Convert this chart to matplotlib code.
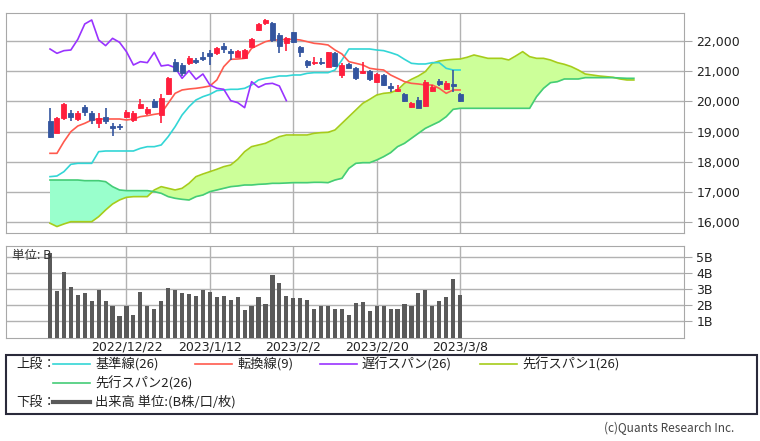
import matplotlib
matplotlib.use("Agg")
import matplotlib.pyplot as plt
from matplotlib.lines import Line2D
from matplotlib.patches import Rectangle
from matplotlib.ticker import FuncFormatter
import numpy as np

plt.rcParams['font.family'] = ['Noto Sans CJK JP', 'DejaVu Sans']

# daily candles (60 sessions)
opens = [19364, 18967, 19441, 19607, 19408, 19805, 19607, 19298, 19496, 19187,
         19187, 19474, 19386, 19772, 19607, 20026, 19552, 20235, 21316, 21206,
         21261, 21371, 21482, 21614, 21592, 21846, 21669, 21482, 21426, 21813,
         22364, 22607, 22607, 22199, 21923, 22287, 21813, 21338, 21261, 21316,
         21151, 21592, 20875, 21228, 21118, 20930, 21018, 20654, 20875, 20511,
         20357, 20235, 19805, 20048, 19849, 20357, 20688, 20401, 20577, 20246]
highs = [19772, 19496, 19937, 19717, 19684, 19882, 19684, 19607, 19794, 19276,
         19254, 19717, 19684, 20081, 19827, 20070, 20235, 20820, 21393, 21261,
         21504, 21426, 21647, 21702, 21813, 21945, 21735, 21702, 21730, 22088,
         22585, 22717, 22640, 22276, 22121, 22309, 21846, 21371, 21482, 21426,
         21647, 21625, 21261, 21261, 21151, 21316, 21040, 20930, 20908, 20599,
         20544, 20268, 19993, 20158, 20710, 20544, 20732, 20688, 21040, 20268]
lows = [18779, 18945, 19386, 19364, 19364, 19518, 19254, 19110, 19254, 18856,
        19055, 19441, 19331, 19750, 19552, 19772, 19276, 20213, 20985, 20842,
        21206, 21228, 21338, 21206, 21537, 21592, 21371, 21460, 21400, 21790,
        22342, 22530, 21978, 21614, 21680, 21923, 21460, 21096, 21206, 21206,
        21129, 21129, 20765, 21096, 20710, 20908, 20688, 20599, 20511, 20323,
        20323, 19993, 19772, 19772, 19827, 20323, 20511, 20379, 20323, 19993]
closes = [18812, 19441, 19904, 19474, 19607, 19640, 19386, 19441, 19364, 19110,
          19143, 19662, 19607, 19904, 19750, 19805, 20125, 20787, 21018, 20930,
          21449, 21305, 21415, 21504, 21757, 21735, 21592, 21680, 21702, 22055,
          22563, 22695, 22033, 21846, 22088, 21956, 21647, 21206, 21316, 21283,
          21625, 21173, 21206, 21118, 20765, 21018, 20732, 20908, 20544, 20434,
          20401, 20026, 19960, 19794, 20654, 20467, 20577, 20599, 20511, 20026]
volume = [5.2, 2.86, 4.07, 3.13, 2.65, 2.78, 2.28, 2.94, 2.26, 1.98,
          1.36, 1.98, 1.42, 2.84, 1.95, 1.77, 2.26, 3.07, 2.96, 2.78,
          2.72, 2.55, 2.96, 2.84, 2.49, 2.55, 2.35, 2.49, 1.73, 1.98,
          2.51, 2.06, 3.85, 3.37, 2.57, 2.43, 2.43, 2.35, 1.79, 1.95,
          1.95, 1.75, 1.75, 1.42, 2.14, 2.22, 1.65, 1.95, 1.95, 1.77,
          1.77, 2.08, 1.95, 2.78, 2.96, 1.98, 2.28, 2.49, 3.64, 2.65]

tenkan = [18283, 18283, 18669, 19000, 19187, 19276, 19386, 19419, 19419, 19419,
          19419, 19386, 19419, 19496, 19529, 19573, 19607, 19937, 20268, 20379,
          20412, 20434, 20467, 20511, 20710, 21151, 21393, 21404, 21426, 21757,
          21868, 21978, 22033, 22033, 22055, 22055, 22033, 21978, 21923, 21901,
          21868, 21702, 21570, 21316, 21261, 21206, 21096, 21062, 21040, 20875,
          20765, 20654, 20599, 20577, 20544, 20544, 20434, 20268, 20379, 20379]
kijun = [17511, 17533, 17676, 17919, 17952, 17952, 17952, 18338, 18360, 18360,
         18360, 18360, 18360, 18448, 18503, 18503, 18559, 18834, 19165, 19551,
         19827, 20048, 20158, 20235, 20357, 20379, 20401, 20401, 20434, 20544,
         20710, 20765, 20798, 20842, 20842, 20875, 20875, 20930, 20952, 20952,
         20952, 21040, 21371, 21735, 21735, 21735, 21735, 21702, 21680, 21614,
         21537, 21393, 21261, 21239, 21239, 21283, 21283, 21096, 21040, 21040]
span1 = [15970, 15860, 15945, 16020, 16020, 16020, 16020, 16187, 16408, 16606,
         16739, 16827, 16849, 16850, 16850, 17070, 17180, 17125, 17070, 17125,
         17290, 17511, 17599, 17676, 17754, 17842, 17897, 18084, 18338, 18504,
         18559, 18614, 18724, 18834, 18890, 18890, 18890, 18890, 18945, 18967,
         18978, 19055, 19276, 19496, 19717, 19937, 20070, 20213, 20268, 20290,
         20379, 20600, 20732, 20842, 20985, 21261, 21338, 21371, 21393, 21404,
         21460, 21537, 21482, 21426, 21426, 21426, 21371, 21504, 21647, 21482,
         21426, 21426, 21371, 21283, 21228, 21151, 21040, 20908, 20875, 20842,
         20820, 20798, 20743, 20710, 20710]
span2 = [17400, 17400, 17400, 17400, 17400, 17378, 17378, 17378, 17345, 17180,
         17070, 17048, 17048, 17048, 17048, 17015, 16960, 16850, 16795, 16761,
         16739, 16850, 16904, 17015, 17070, 17125, 17180, 17202, 17235, 17235,
         17257, 17268, 17290, 17290, 17301, 17312, 17312, 17312, 17323, 17323,
         17312, 17400, 17456, 17786, 17952, 17974, 17974, 18062, 18173, 18305,
         18504, 18614, 18780, 18945, 19110, 19221, 19331, 19496, 19739, 19772,
         19772, 19772, 19772, 19772, 19772, 19772, 19772, 19772, 19772, 19772,
         20158, 20434, 20621, 20654, 20743, 20743, 20743, 20787, 20787, 20787,
         20787, 20787, 20776, 20765, 20765]

tick_pos = [11, 23, 35, 47, 59]
tick_labels = ["2022/12/22", "2023/1/12", "2023/2/2", "2023/2/20", "2023/3/8"]
price_ticks = [16000, 17000, 18000, 19000, 20000, 21000, 22000]
vol_ticks = [1, 2, 3, 4, 5]

RED = '#ff1f3d'
BLUE = '#34559f'
GRID = '#b2b2b2'
FRAME = '#a8a8a8'

fig = plt.figure(figsize=(7.6, 4.41), dpi=100)
ax = fig.add_axes([0.0079, 0.4717, 0.892, 0.4982])
ax2 = fig.add_axes([0.0079, 0.2342, 0.892, 0.2079])

n = len(closes)
x = np.arange(n)
xs = np.arange(len(span1))
xlim = (-6.33, 91.2)

# cloud
a = np.array(span1, dtype=float)
b = np.array(span2, dtype=float)
ax.fill_between(xs, a, b, where=a >= b, interpolate=True, color='#ccff99', lw=0, zorder=2)
ax.fill_between(xs, a, b, where=a < b, interpolate=True, color='#99ffcc', lw=0, zorder=2)
ax.plot(xs, span1, color='#a6cc1a', lw=1.2, zorder=3)
ax.plot(xs, span2, color='#44cc77', lw=1.2, zorder=3)

ax.plot(x, kijun, color='#33d6d6', lw=1.2, zorder=4)
ax.plot(x, tenkan, color='#ff5a4e', lw=1.2, zorder=4)
chikou = closes[25:]
ax.plot(np.arange(len(chikou)), chikou, color='#9933ff', lw=1.2, zorder=4)

# candles
for i in range(n):
    up = closes[i] >= opens[i]
    c = RED if up else BLUE
    ax.vlines(i, lows[i], highs[i], color=c, lw=1.2, zorder=5)
    lo = min(opens[i], closes[i])
    h = max(abs(closes[i] - opens[i]), 25)
    ax.add_patch(Rectangle((i - 0.36, lo), 0.72, h, facecolor=c,
                           edgecolor=c, lw=0.6, zorder=6))

ax.set_xlim(*xlim)
ax.set_ylim(15647, 22917)
ax.set_xticks(tick_pos)
ax.set_yticks(price_ticks)
ax.grid(True, color=GRID, lw=1)
ax.set_axisbelow(True)
ax.yaxis.tick_right()
ax.yaxis.set_major_formatter(FuncFormatter(lambda v, p: f"{int(v):,}"))
ax.tick_params(axis='x', length=0, labelbottom=False)
ax.tick_params(axis='y', length=6, color=FRAME, labelsize=9, labelcolor='#222222', pad=3)
for lab in ax.get_yticklabels():
    lab.set_family('DejaVu Sans')
for s in ax.spines.values():
    s.set_color(FRAME)

# volume
ax2.bar(x, volume, width=0.6, color='#5a5a5a', zorder=3)
ax2.set_xlim(*xlim)
ax2.set_ylim(0, 5.65)
ax2.set_xticks(tick_pos)
ax2.set_xticklabels(tick_labels, family='DejaVu Sans', fontsize=9, color='#222222')
ax2.set_yticks(vol_ticks)
ax2.set_yticklabels([f"{v}B" for v in vol_ticks], family='DejaVu Sans')
ax2.grid(True, color=GRID, lw=1)
ax2.set_axisbelow(True)
ax2.yaxis.tick_right()
ax2.tick_params(axis='x', length=0, pad=2)
ax2.tick_params(axis='y', length=6, color=FRAME, labelsize=9, labelcolor='#222222', pad=3)
for s in ax2.spines.values():
    s.set_color(FRAME)
ax2.text(0.009, 0.9, "単位: B", transform=ax2.transAxes, fontsize=9,
         color='#333333', va='center', ha='left', zorder=5)

# legend box
fig.add_artist(Rectangle((0.0079, 0.0612), 0.988, 0.1338, transform=fig.transFigure,
                         facecolor='white', edgecolor='#2a2a3a', lw=1.5))
row1, row2, row3 = 0.1746, 0.1315, 0.0884
fs = 9.5
fig.text(0.021, row1, "上段：", fontsize=fs, va='center', color='#222222')
fig.text(0.021, row3, "下段：", fontsize=fs, va='center', color='#222222')
items = [
    (53, row1, '#33d6d6', 1.2, "基準線(26)"),
    (195, row1, '#ff5a4e', 1.2, "転換線(9)"),
    (320, row1, '#9933ff', 1.2, "遅行スパン(26)"),
    (480, row1, '#a6cc1a', 1.2, "先行スパン1(26)"),
    (53, row2, '#44cc77', 1.2, "先行スパン2(26)"),
    (53, row3, '#5a5a5a', 3.0, "出来高 単位:(B株/口/枚)"),
]
for px, yy, col, lw, label in items:
    fig.add_artist(Line2D([px / 760, (px + 37) / 760], [yy, yy], color=col, lw=lw,
                          transform=fig.transFigure))
    fig.text((px + 42) / 760, yy, label, fontsize=fs, va='center', color='#222222')

fig.text(0.966, 0.0295, "(c)Quants Research Inc.", fontsize=8.5, ha='right',
         va='center', color='#444444')

fig.savefig("out.png", dpi=100)
